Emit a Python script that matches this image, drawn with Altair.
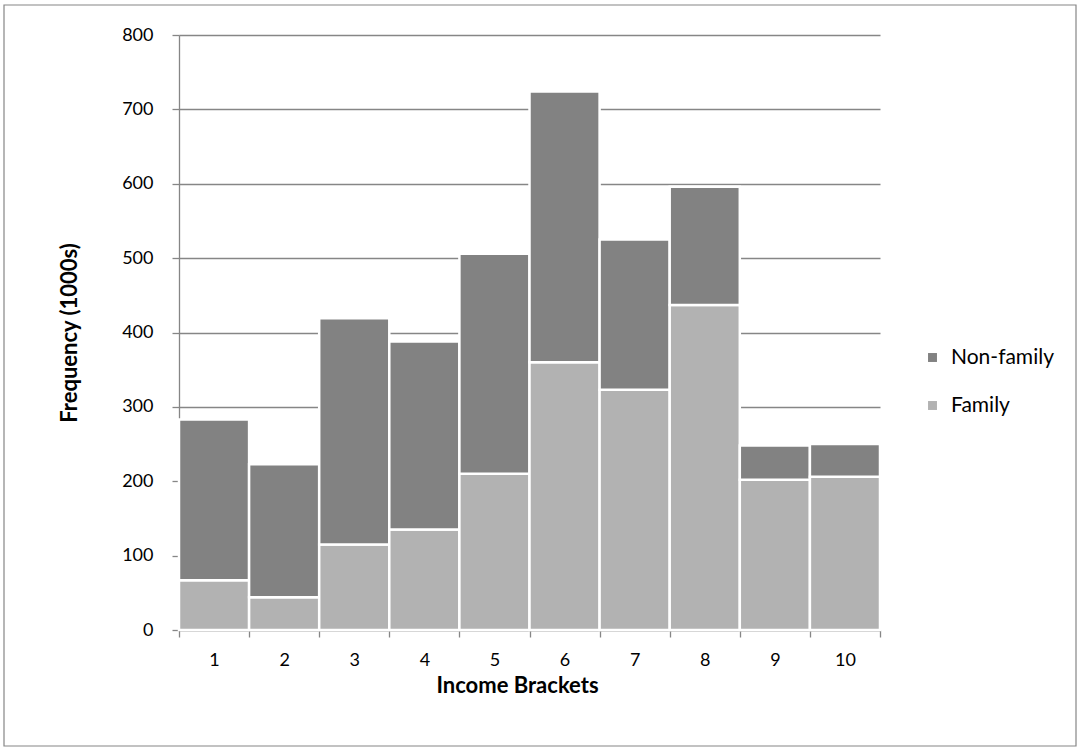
import altair as alt
import pandas as pd

# Income bracket frequencies (thousands of households)
brackets = ["1", "2", "3", "4", "5", "6", "7", "8", "9", "10"]
family = [67, 44, 115, 135, 210, 360, 323, 437, 202, 206]
non_family = [216, 179, 304, 253, 296, 364, 202, 159, 46, 44]

groups = ["Non-family", "Family"]
colors = ["#828282", "#B2B2B2"]

rows = []
for b, f, n in zip(brackets, family, non_family):
    rows.append({"bracket": b, "group": "Family", "value": f, "stack": 0})
    rows.append({"bracket": b, "group": "Non-family", "value": n, "stack": 1})
df = pd.DataFrame(rows)

FONT = "Lato"
W, H = 701, 595

bars = alt.Chart(df).mark_bar(stroke="white", strokeWidth=2.5).encode(
    x=alt.X(
        "bracket:N",
        sort=brackets,
        scale=alt.Scale(paddingInner=0, paddingOuter=0),
        axis=alt.Axis(
            title="Income Brackets",
            labelAngle=0,
            tickBand="extent",
            tickSize=7,
            labelPadding=14,
            titleX=338,
            titleY=45,
            titleAlign="center",
            titleBaseline="top",
            titleFontSize=22,
            titleFontWeight="bold",
        ),
    ),
    y=alt.Y(
        "value:Q",
        stack="zero",
        scale=alt.Scale(domain=[0, 800], nice=False),
        axis=alt.Axis(
            title="Frequency (1000s)",
            values=list(range(0, 801, 100)),
            tickSize=7,
            labelPadding=19,
            titlePadding=40,
            titleFontSize=22,
            titleFontWeight="bold",
        ),
    ),
    color=alt.Color(
        "group:N",
        scale=alt.Scale(domain=groups, range=colors),
        legend=alt.Legend(
            title=None,
            orient="none",
            legendX=743,
            legendY=312,
            symbolType="square",
            symbolSize=80,
            symbolStrokeWidth=0,
            labelFontSize=21,
            rowPadding=26,
            labelOffset=8,
        ),
    ),
    order=alt.Order("stack:Q", sort="ascending"),
)

# thin frame around the whole figure
frame = alt.Chart(pd.DataFrame({"k": [0]})).mark_rect(
    fill=None, stroke="#868686", strokeWidth=1.2
).encode(
    x=alt.value(-175), x2=alt.value(897), y=alt.value(-30), y2=alt.value(711)
)

chart = (
    alt.layer(frame, bars)
    .properties(
        width=W,
        height=H,
        autosize=alt.AutoSizeParams(type="none"),
        padding={"left": 179, "top": 35, "right": 200, "bottom": 121},
        background="white",
    )
    .configure_view(stroke=None)
    .configure_axis(
        labelFont=FONT,
        titleFont=FONT,
        labelFontSize=18,
        labelColor="#000000",
        titleColor="#000000",
        domainColor="#868686",
        tickColor="#868686",
        gridColor="#868686",
        gridWidth=1.3,
        domainWidth=1.3,
        tickWidth=1.3,
    )
    .configure_axisX(grid=False)
    .configure_legend(labelFont=FONT, labelColor="#000000")
)

chart.save("out.html", embed_options={"renderer": "svg", "actions": False})
